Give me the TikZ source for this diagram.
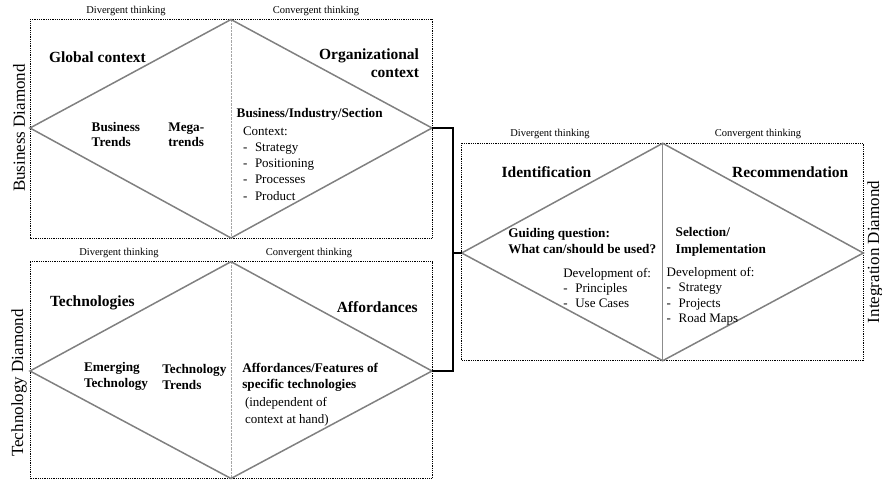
\documentclass[tikz,border=0pt]{standalone}
\usepackage{fontspec}
\setmainfont{Liberation Serif}
\begin{document}
\begin{tikzpicture}[x=1pt,y=-1pt,
  box/.style={draw=black, line width=0.6pt, dash pattern=on 0.9pt off 0.9pt},
  dia/.style={draw=black!50, line width=1.5pt, line join=miter},
  midline/.style={draw=black!35, line width=0.8pt, dash pattern=on 2.5pt off 1pt},
  link/.style={draw=black, line width=2.4pt, line join=miter},
  lbl/.style={inner sep=0pt, outer sep=0pt},
  small/.style={lbl, font=\fontsize{10.5}{12}\selectfont},
  head/.style={lbl, font=\fontsize{15.5}{18}\selectfont\bfseries},
  inb/.style={lbl, font=\fontsize{13.2}{16}\selectfont\bfseries, align=left},
  txt/.style={lbl, font=\fontsize{13}{16}\selectfont, align=left},
  side/.style={lbl, font=\fontsize{17}{20}\selectfont, rotate=90}]
\useasboundingbox (0,0) rectangle (882,481);
\newcommand{\itm}[1]{\makebox[12pt][l]{-}#1}

% ---------- Business diamond ----------
\coordinate (bNW) at (30,19.5);
\coordinate (bSE) at (432,238);
\coordinate (bW) at (30,128);
\coordinate (bN) at (231,19.5);
\coordinate (bE) at (432,128);
\coordinate (bS) at (231,238);
\draw[box] (bNW) rectangle (bSE);
\draw[midline] (bN) -- (bS);
\draw[dia] (bW) -- (bN) -- (bE) -- (bS) -- cycle;

\node[small, anchor=base] (bdiv) at (126,13.5) {Divergent thinking};
\node[small, anchor=base] (bconv) at (316,13.5) {Convergent thinking};
\node[side] (bside) at (19,128) {Business Diamond};
\node[head, anchor=west] (glob) at (49,57) {Global context};
\node[head, anchor=east, align=right] (org) at (419,63) {Organizational\\context};
\node[inb, anchor=west, font=\fontsize{13.2}{15}\selectfont\bfseries] (btr) at (91.7,134.5) {Business\\Trends};
\node[inb, anchor=west, font=\fontsize{13.2}{15}\selectfont\bfseries] (mega) at (168.3,134.5) {Mega-\\trends};
\node[inb, anchor=west] (bis) at (236.7,114) {Business/Industry/Section};
\node[txt, anchor=west, font=\fontsize{13}{16.2}\selectfont] (ctx) at (243,163.5)
  {Context:\\\itm{Strategy}\\\itm{Positioning}\\\itm{Processes}\\\itm{Product}};

% ---------- Technology diamond ----------
\coordinate (tNW) at (30,261.7);
\coordinate (tSE) at (432,478.5);
\coordinate (tW) at (30,371);
\coordinate (tN) at (231,261.7);
\coordinate (tE) at (432,371);
\coordinate (tS) at (231,478.5);
\draw[box] (tNW) rectangle (tSE);
\draw[midline] (tN) -- (tS);
\draw[dia] (tW) -- (tN) -- (tE) -- (tS) -- cycle;

\node[small, anchor=base] (tdiv) at (119,255.5) {Divergent thinking};
\node[small, anchor=base] (tconv) at (309,255.5) {Convergent thinking};
\node[side] (tside) at (19,383) {Technology Diamond};
\node[head, anchor=west] (techs) at (50,303.3) {Technologies};
\node[head, anchor=east] (aff) at (417.7,306.7) {Affordances};
\node[inb, anchor=west] (emerg) at (84,376.5) {Emerging\\Technology};
\node[inb, anchor=west] (ttr) at (162.3,376.5) {Technology\\Trends};
\node[inb, anchor=west] (afff) at (242.3,377.5) {Affordances/Features of\\specific technologies};
\node[txt, anchor=west, font=\fontsize{13}{16.7}\selectfont] (indep) at (245,411.7) {(independent of\\context at hand)};

% ---------- Integration diamond ----------
\coordinate (iNW) at (461.7,143.3);
\coordinate (iSE) at (863.3,360.7);
\coordinate (iW) at (461.7,253);
\coordinate (iN) at (662.7,143.3);
\coordinate (iE) at (863.3,253);
\coordinate (iS) at (662.7,360.7);
\draw[box] (iNW) rectangle (iSE);
\draw[draw=black!45, line width=0.7pt] (iN) -- (iS);
\draw[dia] (iW) -- (iN) -- (iE) -- (iS) -- cycle;

\node[small, anchor=base] (idiv) at (550,136.8) {Divergent thinking};
\node[small, anchor=base] (iconv) at (758,136.8) {Convergent thinking};
\node[side] (iside) at (875,252) {Integration Diamond};
\node[head, anchor=west] (ident) at (501.7,171.7) {Identification};
\node[head, anchor=east] (recom) at (848.3,171.7) {Recommendation};
\node[inb, anchor=west, font=\fontsize{13.2}{16.3}\selectfont\bfseries] (guide) at (508.3,241) {Guiding question:\\What can/should be used?};
\node[txt, anchor=west, font=\fontsize{13}{15}\selectfont] (devl) at (563.3,288.3)
  {Development of:\\\itm{Principles}\\\itm{Use Cases}};
\node[inb, anchor=west, font=\fontsize{13.2}{16.7}\selectfont\bfseries] (selimp) at (675.7,241.7) {Selection/\\Implementation};
\node[txt, anchor=west, font=\fontsize{13}{15.3}\selectfont] (devr) at (666.7,296.3)
  {Development of:\\\itm{Strategy}\\\itm{Projects}\\\itm{Road Maps}};

% ---------- Connector ----------
\coordinate (j) at (452.7,253);
\draw[link] (bE) -| (j) |- (tE);
\draw[link] (j) -- (iW);
\end{tikzpicture}
\end{document}
